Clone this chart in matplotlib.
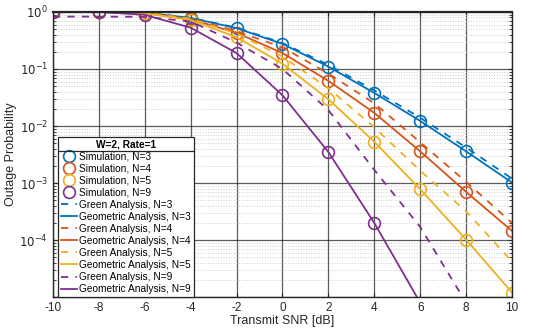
import numpy as np
import matplotlib.pyplot as plt
from matplotlib.lines import Line2D

plt.rcParams['font.family'] = ['Liberation Sans', 'DejaVu Sans']
plt.rcParams['axes.unicode_minus'] = False

snr = [-10, -8, -6, -4, -2, 0, 2, 4, 6, 8, 10]

# simulated outage probability (markers)
sim_n3 = [1.0, 1.0, 0.97, 0.785, 0.52, 0.275, 0.11, 0.038, 0.0123, 0.0036, 0.00102]
sim_n4 = [1.0, 1.0, 0.96, 0.75, 0.43, 0.19, 0.062, 0.017, 0.0036, 0.0007, 0.000145]
sim_n5 = [1.0, 1.0, 0.95, 0.72, 0.36, 0.124, 0.0294, 0.0053, 0.00078, 0.000102, 0.000012]
sim_n9 = [1.0, 1.0, 0.89, 0.53, 0.19, 0.0346, 0.0035, 0.0002]

# geometric analysis (solid)
geo_n3 = sim_n3
geo_n4 = sim_n4
geo_n5 = sim_n5
geo_n9 = [1.0, 1.0, 0.89, 0.53, 0.19, 0.0346, 0.0035, 0.0002, 0.000008]

# green analysis (dashed)
green_n3 = [1.0, 1.0, 0.98, 0.79, 0.53, 0.285, 0.118, 0.042, 0.014, 0.0042, 0.0012]
green_n4 = [1.0, 1.0, 0.97, 0.77, 0.46, 0.24, 0.083, 0.025, 0.0052, 0.00105, 0.0002]
green_n5 = [1.0, 1.0, 0.97, 0.76, 0.42, 0.165, 0.046, 0.0095, 0.00165, 0.00032, 0.000042]
green_n9 = [0.83, 0.83, 0.82, 0.68, 0.29, 0.10, 0.019, 0.0017, 0.00017, 0.000008]

colors = {3: '#0072BD', 4: '#D95319', 5: '#EDB120', 9: '#7E2F8E'}

fig = plt.figure(figsize=(5.35, 3.32), dpi=100)
ax = fig.add_axes([0.099, 0.105, 0.858, 0.859])

sims = {3: sim_n3, 4: sim_n4, 5: sim_n5, 9: sim_n9}
greens = {3: green_n3, 4: green_n4, 5: green_n5, 9: green_n9}
geos = {3: geo_n3, 4: geo_n4, 5: geo_n5, 9: geo_n9}

handles = []
labels = []
for n in [3, 4, 5, 9]:
    y = sims[n]
    ax.plot(snr[:len(y)], y, 'o', mfc='none', mec=colors[n], ms=8.5, mew=1.2)
    handles.append(Line2D([], [], ls='none', marker='o', mfc='none', mec=colors[n], ms=8.5, mew=1.2))
    labels.append(f'Simulation, N={n}')
for n in [3, 4, 5, 9]:
    g = greens[n]
    ax.plot(snr[:len(g)], g, '--', color=colors[n], lw=1.3, dashes=(4, 4))
    s = geos[n]
    ax.plot(snr[:len(s)], s, '-', color=colors[n], lw=1.3)
    handles.append(Line2D([], [], ls='--', color=colors[n], lw=1.3, dashes=(4, 4)))
    labels.append(f'Green Analysis, N={n}')
    handles.append(Line2D([], [], ls='-', color=colors[n], lw=1.3))
    labels.append(f'Geometric Analysis, N={n}')

ax.set_yscale('log')
ax.set_xlim(-10, 10)
ax.set_ylim(1e-5, 1)
ax.set_xticks(range(-10, 11, 2))
ax.set_yticks([1e-5, 1e-4, 1e-3, 1e-2, 1e-1, 1])
ax.set_yticklabels(['', r'$10^{-4}$', r'$10^{-3}$', r'$10^{-2}$', r'$10^{-1}$', r'$10^{0}$'])
ax.grid(True, which='major', color='#262626', alpha=0.75, lw=0.9)
ax.grid(True, which='minor', axis='y', color='#cccccc', ls=':', lw=0.7)
ax.tick_params(which='both', direction='in', top=True, right=True, labelsize=8.5, colors='#262626')
ax.tick_params(which='major', length=3)
ax.tick_params(which='minor', length=2)
for sp in ax.spines.values():
    sp.set_color('#262626')
    sp.set_linewidth(1.0)
ax.spines['top'].set_linewidth(1.6)

ax.set_xlabel('Transmit SNR [dB]', fontsize=9, color='#262626', labelpad=1)
ax.set_ylabel('Outage Probability', fontsize=9, color='#262626', labelpad=2)

leg = ax.legend(handles, labels, loc='lower left', bbox_to_anchor=(0.01, 0.0),
                fontsize=7.3, title='W=2, Rate=1', title_fontproperties={'size': 7.3, 'weight': 'bold'},
                handlelength=1.6, handletextpad=0.2, labelspacing=0.2, borderpad=0.3,
                borderaxespad=0.0, fancybox=False, framealpha=1, edgecolor='#262626')
leg.get_frame().set_linewidth(0.9)

# separator line under legend title
fig.canvas.draw()
bb = leg.get_window_extent()
tb = leg.get_title().get_window_extent()
inv = fig.transFigure.inverted()
x0, y0 = inv.transform((bb.x0, tb.y0 - 1.5))
x1, _ = inv.transform((bb.x1, tb.y0 - 1.5))
fig.add_artist(Line2D([x0, x1], [y0, y0], color='#262626', lw=0.9))

plt.savefig('out.png', dpi=100)
